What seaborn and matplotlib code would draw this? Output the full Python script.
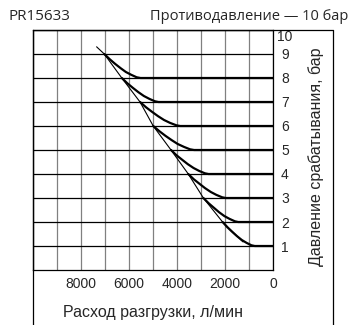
import matplotlib
matplotlib.use('Agg')
import matplotlib.pyplot as plt
from matplotlib.lines import Line2D
import pandas as pd
import seaborn as sns

# relief curves: flow (l/min) vs set pressure (bar)
flow_8 = [7030, 6800, 6580, 6350, 6130, 5900, 5680, 5520, 0]
bar_8 = [9.0, 8.78, 8.59, 8.41, 8.25, 8.13, 8.03, 8.0, 8.0]
flow_7 = [6300, 6070, 5840, 5610, 5380, 5150, 4920, 4770, 0]
bar_7 = [8.0, 7.78, 7.59, 7.41, 7.25, 7.13, 7.03, 7.0, 7.0]
flow_6 = [5540, 5290, 5040, 4790, 4540, 4290, 4030, 3870, 0]
bar_6 = [7.0, 6.78, 6.59, 6.41, 6.25, 6.13, 6.03, 6.0, 6.0]
flow_5 = [4990, 4730, 4480, 4220, 3970, 3710, 3460, 3290, 0]
bar_5 = [6.0, 5.78, 5.59, 5.41, 5.25, 5.13, 5.03, 5.0, 5.0]
flow_4 = [4250, 4020, 3780, 3550, 3310, 3080, 2840, 2690, 0]
bar_4 = [5.0, 4.78, 4.59, 4.41, 4.25, 4.13, 4.03, 4.0, 4.0]
flow_3 = [3530, 3300, 3060, 2830, 2590, 2360, 2120, 1970, 0]
bar_3 = [4.0, 3.78, 3.59, 3.41, 3.25, 3.13, 3.03, 3.0, 3.0]
flow_2 = [2900, 2680, 2460, 2250, 2030, 1810, 1590, 1450, 0]
bar_2 = [3.0, 2.78, 2.59, 2.41, 2.25, 2.13, 2.03, 2.0, 2.0]
flow_1 = [2100, 1900, 1700, 1500, 1300, 1100, 900, 760, 0]
bar_1 = [2.0, 1.78, 1.59, 1.41, 1.25, 1.13, 1.03, 1.0, 1.0]

# thin envelope line
diag_flow = [7350, 7030, 6300, 5540, 4990, 4250, 3530, 2900, 2100, 1250]
diag_bar = [9.3, 9.0, 8.0, 7.0, 6.0, 5.0, 4.0, 3.0, 2.0, 1.17]

x_ticks = [0, 1000, 2000, 3000, 4000, 5000, 6000, 7000, 8000, 9000, 10000]
x_labels = ['0', '', '2000', '', '4000', '', '6000', '', '8000', '', '']
y_ticks = [1, 2, 3, 4, 5, 6, 7, 8, 9, 10]

curves = []
for lvl, fl, br in [(8, flow_8, bar_8), (7, flow_7, bar_7), (6, flow_6, bar_6),
                    (5, flow_5, bar_5), (4, flow_4, bar_4), (3, flow_3, bar_3),
                    (2, flow_2, bar_2), (1, flow_1, bar_1)]:
    curves.append(pd.DataFrame({'flow': fl, 'bar': br, 'level': lvl}))
df = pd.concat(curves, ignore_index=True)
diag = pd.DataFrame({'flow': diag_flow, 'bar': diag_bar})

sns.set_style('white')
plt.rcParams['font.family'] = ['Liberation Sans', 'DejaVu Sans']

fig = plt.figure(figsize=(3.49, 3.25), dpi=100)
ax = fig.add_axes([33/349, 55/325, 240/349, 240/325])

sns.lineplot(data=diag, x='flow', y='bar', sort=False, color='black', linewidth=0.8, ax=ax)
sns.lineplot(data=df, x='flow', y='bar', units='level', estimator=None, sort=False,
             color='black', linewidth=1.6, ax=ax)

ax.set_xlim(10000, 0)
ax.set_ylim(0, 10)
ax.set_xticks(x_ticks)
ax.set_xticklabels(x_labels, fontsize=10)
ax.set_yticks(y_ticks)
ax.yaxis.tick_right()
ax.set_yticklabels([str(v) for v in y_ticks], fontsize=10)
ax.tick_params(axis='both', length=0)
ax.tick_params(axis='x', pad=5)
ax.tick_params(axis='y', pad=8.6)
for lab in ax.get_yticklabels():
    lab.set_horizontalalignment('center')
ax.get_yticklabels()[-1].set_verticalalignment('top')

ax.grid(axis='x', color='#808080', linewidth=0.9)
ax.grid(axis='y', color='black', linewidth=0.9)
for s in ax.spines.values():
    s.set_color('black')
    s.set_linewidth(0.9)

ax.set_xlabel('Расход разгрузки, л/мин', fontsize=11.5)
ax.xaxis.set_label_coords(0.5, -0.145)
ax.yaxis.set_label_position('right')
ax.set_ylabel('Давление срабатывания, бар', fontsize=11.5, rotation=90)
ax.yaxis.set_label_coords(1.145, 0.47)

# outer frame around the chart
fx0, fx1, fy = 33/349, 333/349, 1 - 30/325
for xs, ys in [([fx0, fx0], [0, fy]), ([fx1, fx1], [0, fy]), ([fx0, fx1], [fy, fy])]:
    fig.add_artist(Line2D(xs, ys, transform=fig.transFigure, color='black', linewidth=0.9))

fig.text(8/349, 1 - 17/325, 'PR15633', fontsize=11, family='Open Sans', va='center', ha='left')
fig.text(348/349, 1 - 17/325, 'Противодавление — 10 бар', fontsize=10.5, family='Open Sans',
         va='center', ha='right')

fig.savefig('out.png', dpi=100, facecolor='white')
